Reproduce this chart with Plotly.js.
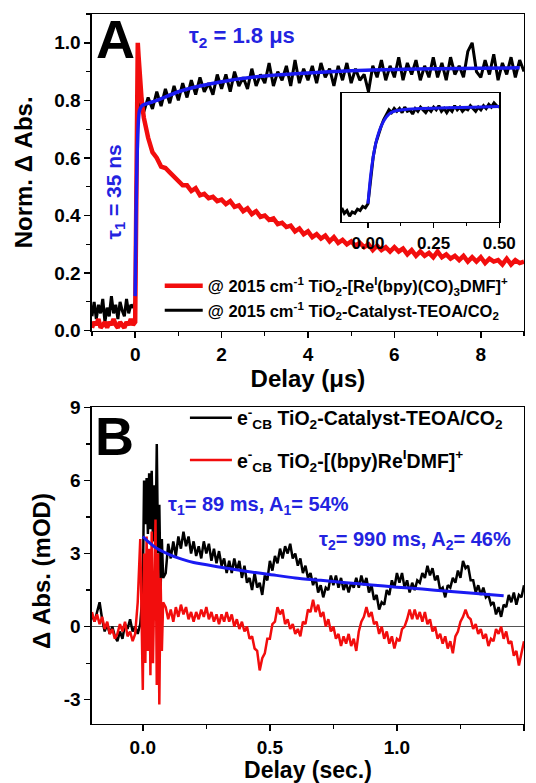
<!DOCTYPE html>
<html>
<head>
<meta charset="utf-8">
<script src="https://cdn.plot.ly/plotly-3.0.1.min.js"></script>
<style>html,body{margin:0;padding:0;background:#fff;}#chart{width:536px;height:783px;}</style>
</head>
<body>
<div id="chart"></div>
<script>
// ---------- Panel A: normalized IR transients (delay in microseconds) ----------
const tA = [-1.00,-0.95,-0.90,-0.85,-0.80,-0.75,-0.70,-0.65,-0.60,-0.55,-0.50,-0.45,-0.40,-0.35,-0.30,-0.25,-0.20,-0.15,-0.10,-0.05,
  0.00,0.02,0.04,0.06,0.08,0.10,0.15,
  0.2,0.3,0.4,0.5,0.6,0.7,0.8,0.9,
  1.0,1.1,1.2,1.3,1.4,1.5,1.6,1.7,1.8,1.9,
  2.0,2.1,2.2,2.3,2.4,2.5,2.6,2.7,2.8,2.9,
  3.0,3.1,3.2,3.3,3.4,3.5,3.6,3.7,3.8,3.9,
  4.0,4.1,4.2,4.3,4.4,4.5,4.6,4.7,4.8,4.9,
  5.0,5.1,5.2,5.3,5.4,5.5,5.6,5.7,5.8,5.9,
  6.0,6.1,6.2,6.3,6.4,6.5,6.6,6.7,6.8,6.9,
  7.0,7.1,7.2,7.3,7.4,7.5,7.6,7.7,7.8,7.9,
  8.0,8.1,8.2,8.3,8.4,8.5,8.6,8.7,8.8,8.9,9.0];
const blackA = [0.05,0.10,0.04,0.09,0.06,0.11,0.03,0.08,0.05,0.12,0.06,0.09,0.04,0.10,0.07,0.05,0.11,0.06,0.09,0.08,
  0.10,0.45,0.66,0.74,0.79,0.76,0.81,
  0.76,0.81,0.77,0.83,0.78,0.84,0.79,0.85,
  0.80,0.86,0.81,0.87,0.82,0.88,0.83,0.86,0.82,0.89,
  0.84,0.89,0.83,0.90,0.85,0.88,0.84,0.91,0.85,0.89,
  0.86,0.93,0.85,0.90,0.87,0.92,0.85,0.94,0.86,0.91,
  0.87,0.92,0.86,0.93,0.88,0.91,0.85,0.92,0.87,0.93,
  0.86,0.91,0.87,0.89,0.83,0.92,0.88,0.94,0.87,0.92,
  0.88,0.95,0.87,0.93,0.89,0.94,0.87,0.92,0.88,0.95,
  0.88,0.93,0.87,0.95,0.89,0.92,0.88,0.97,1.00,0.90,
  0.88,0.94,0.89,0.96,0.87,0.93,0.89,0.95,0.88,0.94,0.90];
const redA = [0.01,0.03,0.02,0.04,0.01,0.02,0.03,0.01,0.03,0.02,0.04,0.02,0.01,0.03,0.02,0.01,0.03,0.02,0.04,0.02,
  0.03,0.55,0.92,1.00,0.95,0.90,0.80,
  0.74,0.67,0.62,0.60,0.57,0.565,0.55,0.535,
  0.525,0.505,0.505,0.485,0.495,0.47,0.475,0.46,0.465,0.45,
  0.455,0.44,0.45,0.43,0.435,0.415,0.425,0.405,0.415,0.395,
  0.40,0.385,0.39,0.37,0.375,0.36,0.365,0.345,0.355,0.335,
  0.345,0.325,0.335,0.32,0.33,0.31,0.325,0.305,0.315,0.30,
  0.31,0.295,0.305,0.29,0.30,0.28,0.295,0.28,0.29,0.275,
  0.29,0.275,0.285,0.265,0.28,0.26,0.275,0.26,0.27,0.255,
  0.275,0.255,0.265,0.25,0.26,0.245,0.26,0.24,0.255,0.24,
  0.255,0.235,0.25,0.24,0.245,0.23,0.25,0.23,0.245,0.235,0.24];
const tFitA = [0,0.02,0.04,0.06,0.08,0.10,0.15,0.2,0.5,1,1.5,2,3,4,5,6,7,8,8.9];
const fitA  = [0.12,0.40,0.58,0.68,0.74,0.765,0.78,0.785,0.80,0.83,0.85,0.865,0.885,0.895,0.903,0.907,0.91,0.912,0.913];

// ---------- Inset of panel A (0 to 0.5 microseconds) ----------
const tInset = [-0.10,-0.09,-0.08,-0.07,-0.06,-0.05,-0.04,-0.03,-0.02,-0.01,0.00,
  0.01,0.02,0.03,0.04,0.05,0.06,0.07,0.08,0.09,0.10,
  0.11,0.12,0.13,0.14,0.15,0.16,0.17,0.18,0.19,0.20,
  0.21,0.22,0.23,0.24,0.25,0.26,0.27,0.28,0.29,0.30,
  0.31,0.32,0.33,0.34,0.35,0.36,0.37,0.38,0.39,0.40,
  0.41,0.42,0.43,0.44,0.45,0.46,0.47,0.48,0.49,0.50];
const blackInset = [0.10,0.06,0.08,0.04,0.07,0.06,0.09,0.08,0.11,0.10,0.13,
  0.30,0.47,0.57,0.64,0.69,0.74,0.77,0.81,0.79,0.82,
  0.80,0.82,0.79,0.83,0.80,0.81,0.78,0.82,0.80,0.83,
  0.81,0.79,0.82,0.80,0.83,0.81,0.84,0.80,0.82,0.79,
  0.82,0.80,0.84,0.81,0.83,0.80,0.82,0.81,0.84,0.82,
  0.80,0.83,0.81,0.84,0.82,0.85,0.83,0.86,0.84,0.83];
const tFitInset = [0,0.01,0.02,0.03,0.04,0.05,0.06,0.08,0.10,0.15,0.20,0.30,0.40,0.50];
const fitInset  = [0.13,0.33,0.47,0.57,0.64,0.69,0.73,0.78,0.80,0.815,0.82,0.825,0.83,0.835];
const insetTicks = [0, 0.25, 0.50];
const insetTickText = ['0.00','0.25','0.50'];

// ---------- Panel B: conduction-band electrons (delay in seconds) ----------
const tB = [-0.20,-0.19,-0.18,-0.17,-0.16,-0.15,-0.14,-0.13,-0.12,-0.11,-0.10,-0.09,-0.08,-0.07,-0.06,-0.05,-0.04,-0.03,-0.02,-0.01,
  0.000,0.005,0.010,0.015,0.020,0.025,0.030,0.035,0.040,0.045,0.050,0.055,0.060,0.065,0.070,0.075,0.080,
  0.09,0.10,0.11,0.12,0.13,0.14,0.15,0.16,0.17,0.18,0.19,0.20,0.21,0.22,0.23,0.24,0.25,0.26,0.27,0.28,0.29,0.30,
  0.31,0.32,0.33,0.34,0.35,0.36,0.37,0.38,0.39,0.40,0.41,0.42,0.43,0.44,0.45,0.46,0.47,0.48,0.49,0.50,
  0.51,0.52,0.53,0.54,0.55,0.56,0.57,0.58,0.59,0.60,0.61,0.62,0.63,0.64,0.65,0.66,0.67,0.68,0.69,0.70,
  0.71,0.72,0.73,0.74,0.75,0.76,0.77,0.78,0.79,0.80,0.81,0.82,0.83,0.84,0.85,0.86,0.87,0.88,0.89,0.90,
  0.91,0.92,0.93,0.94,0.95,0.96,0.97,0.98,0.99,1.00,1.01,1.02,1.03,1.04,1.05,1.06,1.07,1.08,1.09,1.10,
  1.11,1.12,1.13,1.14,1.15,1.16,1.17,1.18,1.19,1.20,1.21,1.22,1.23,1.24,1.25,1.26,1.27,1.28,1.29,1.30,
  1.31,1.32,1.33,1.34,1.35,1.36,1.37,1.38,1.39,1.40,1.41,1.42,1.43,1.44,1.45,1.46,1.47,1.48,1.49,1.50];
const blackB = [0.5,0.2,0.6,1.0,0.3,-0.2,0.1,-0.3,0.0,-0.4,-0.6,-0.2,-0.5,0.1,-0.1,0.3,-0.2,0.0,-0.3,0.1,
  1.5,6.0,4.2,6.1,3.8,6.3,4.0,6.4,3.5,5.8,3.3,7.5,3.0,5.0,1.5,3.6,2.0,
  2.2,3.4,2.8,3.5,2.9,3.7,3.2,3.9,3.3,3.7,3.0,3.5,2.9,3.3,2.8,3.5,3.0,3.4,2.7,3.2,2.6,3.1,
  2.5,2.8,2.2,2.7,2.2,2.8,2.3,2.7,2.0,2.5,1.8,2.0,1.5,2.2,1.6,1.8,1.3,2.1,1.9,2.7,
  2.3,2.9,2.6,3.2,2.8,3.3,3.0,3.4,2.8,3.0,2.5,2.8,2.2,2.5,2.0,2.2,1.7,2.0,1.4,1.7,
  1.2,1.6,1.5,2.1,1.7,2.1,1.6,2.0,1.5,1.8,1.4,1.8,1.6,2.0,1.6,2.1,1.7,2.0,1.4,1.7,
  1.1,1.3,0.7,1.0,0.9,1.5,1.3,1.9,1.6,2.2,1.8,2.2,1.6,1.9,1.4,1.8,1.5,1.9,1.8,2.2,
  2.0,2.5,2.1,2.4,1.9,2.1,1.5,1.6,1.2,1.7,1.6,2.0,1.8,2.3,2.0,2.7,2.4,2.5,1.9,1.9,
  1.4,1.7,1.3,1.6,1.2,1.3,0.9,1.0,0.5,0.8,0.4,0.9,0.8,1.3,1.0,1.4,0.9,1.3,1.2,1.7];
const redB = [0.6,0.2,0.5,0.1,0.4,-0.1,0.2,-0.3,-0.1,-0.5,-0.3,0.1,-0.2,0.2,-0.4,-0.2,-0.6,-0.3,1.0,3.6,
  -2.6,3.0,-1.5,3.7,-1.0,3.2,-2.0,3.9,-1.5,2.5,4.4,-2.4,3.0,-3.2,2.0,-1.0,1.0,
  0.8,0.3,0.7,0.2,0.8,0.4,0.9,0.5,0.8,0.3,0.6,0.2,0.6,0.3,0.7,0.4,0.8,0.3,0.6,0.2,0.5,0.1,
  0.5,0.2,0.6,0.2,0.5,0.0,0.3,-0.1,0.2,-0.2,0.0,-0.5,-0.4,-0.9,-1.0,-1.8,-1.3,-1.1,-0.5,-0.5,
  0.1,0.2,0.8,0.5,0.7,0.1,0.3,-0.1,0.1,-0.3,-0.1,-0.4,0.2,0.1,0.7,0.6,1.1,0.6,0.9,0.4,
  0.6,0.0,0.3,-0.2,0.0,-0.5,-0.3,-0.8,-0.4,-0.7,-0.3,-0.8,-0.5,-1.0,-0.2,0.2,0.4,0.8,0.4,0.6,
  0.1,0.2,-0.3,0.0,-0.5,-0.2,-0.7,-0.4,-0.9,-0.5,-0.6,-0.1,0.0,0.3,0.7,0.3,0.7,0.3,0.6,0.2,
  0.6,0.1,0.3,-0.2,0.0,-0.5,-0.3,-0.7,-0.4,-0.9,-0.6,-1.1,-0.4,-0.2,0.2,0.4,0.7,0.4,0.3,-0.1,
  0.1,-0.3,-0.1,-0.5,-0.3,-0.8,-0.5,-0.6,-0.1,-0.3,0.0,-0.5,-0.2,-0.7,-0.6,-1.2,-1.0,-1.6,-1.1,-0.6];
const tFitB = [0,0.02,0.05,0.10,0.15,0.20,0.30,0.40,0.50,0.60,0.70,0.80,0.90,1.00,1.10,1.20,1.30,1.42];
const fitB  = [3.7,3.5,3.25,2.98,2.78,2.63,2.45,2.28,2.14,2.0,1.9,1.8,1.71,1.62,1.54,1.45,1.37,1.27];
const yTicksB = [-3,0,3,6,9];
const yTickTextB = ['-3','0','3','6','9'];

// ---------- Labels ----------
const nameRedA = '@ 2015 cm<sup>-1</sup> TiO<sub>2</sub>-[Re<sup>I</sup>(bpy)(CO)<sub>3</sub>DMF]<sup>+</sup>';
const nameBlackA = '@ 2015 cm<sup>-1</sup> TiO<sub>2</sub>-Catalyst-TEOA/CO<sub>2</sub>';
const nameBlackB = 'e<sup>-</sup><sub>CB</sub> TiO<sub>2</sub>-Catalyst-TEOA/CO<sub>2</sub>';
const nameRedB = 'e<sup>-</sup><sub>CB</sub> TiO<sub>2</sub>-[(bpy)Re<sup>I</sup>DMF]<sup>+</sup>';
const yTitleB = 'Δ Abs. (mOD)';

const RED = '#f20d0d', BLACK = '#000000', BLUE = '#1a1af2', TXTBLUE = '#2323e0';

const traces = [
  {x: tA, y: blackA, xaxis:'x', yaxis:'y', mode:'lines', line:{color:BLACK, width:3}, name: nameBlackA, legend:'legend', legendrank:2, legendgroup:'a2'},
  {x: tA, y: redA, xaxis:'x', yaxis:'y', mode:'lines', line:{color:RED, width:4.5}, name: nameRedA, legend:'legend', legendrank:1, legendgroup:'a1'},
  {x: tFitA, y: fitA, xaxis:'x', yaxis:'y', mode:'lines', line:{color:BLUE, width:3.5, shape:'spline', smoothing:0.5}, showlegend:false, name:'fit A'},
  {x: tInset, y: blackInset, xaxis:'x3', yaxis:'y3', mode:'lines', line:{color:BLACK, width:3}, showlegend:false, name:'inset'},
  {x: tFitInset, y: fitInset, xaxis:'x3', yaxis:'y3', mode:'lines', line:{color:BLUE, width:3, shape:'spline', smoothing:0.6}, showlegend:false, name:'inset fit'},
  {x: tB, y: blackB, xaxis:'x2', yaxis:'y2', mode:'lines', line:{color:BLACK, width:2.5}, name: nameBlackB, legend:'legend2', legendrank:1, legendgroup:'b1'},
  {x: tB, y: redB, xaxis:'x2', yaxis:'y2', mode:'lines', line:{color:RED, width:2.5}, name: nameRedB, legend:'legend2', legendrank:2, legendgroup:'b2'},
  {x: tFitB, y: fitB, xaxis:'x2', yaxis:'y2', mode:'lines', line:{color:BLUE, width:3, shape:'spline', smoothing:0.6}, showlegend:false, name:'fit B'}
];

const axBase = {showline:true, mirror:true, linecolor:'#000', linewidth:1.5, showgrid:false, zeroline:false,
  ticks:'outside', ticklen:6, tickwidth:1.5, tickcolor:'#000', tickfont:{size:19}};

const layout = {
  width:536, height:783, margin:{l:0,r:0,t:0,b:0},
  paper_bgcolor:'#fff', plot_bgcolor:'#fff',
  font:{family:'"Liberation Sans", Arial, sans-serif', weight:'bold', color:'#000', size:19},
  showlegend:true,
  xaxis: Object.assign({}, axBase, {domain:[0.1716,0.9776], anchor:'y', range:[-1,9], tick0:0, dtick:2,
    minor:{dtick:1, ticks:'outside', ticklen:4, tickwidth:1.2, tickcolor:'#000'},
    title:{text:'Delay (μs)', font:{size:24}, standoff:4}}),
  yaxis: Object.assign({}, axBase, {domain:[0.5777,0.9821], anchor:'x', range:[0,1.1], tick0:0, dtick:0.2, tickformat:'.1f',
    minor:{dtick:0.1, ticks:'outside', ticklen:4, tickwidth:1.2, tickcolor:'#000'},
    title:{text:'Norm. Δ Abs.', font:{size:24}, standoff:15}}),
  xaxis2: Object.assign({}, axBase, {domain:[0.1716,0.9776], anchor:'y2', range:[-0.2,1.5], tick0:0, dtick:0.5, tickformat:'.1f',
    minor:{dtick:0.25, ticks:'outside', ticklen:4, tickwidth:1.2, tickcolor:'#000'},
    title:{text:'Delay (sec.)', font:{size:23}, standoff:5}}),
  yaxis2: Object.assign({}, axBase, {domain:[0.0754,0.4796], anchor:'x2', range:[-4,9], tickmode:'array', tickvals:yTicksB, ticktext:yTickTextB,
    minor:{dtick:1.5, tick0:0, ticks:'outside', ticklen:4, tickwidth:1.2, tickcolor:'#000'},
    zeroline:true, zerolinecolor:'#555', zerolinewidth:1.2}),
  xaxis3: Object.assign({}, axBase, {domain:[0.6375,0.9315], anchor:'y3', range:[-0.1,0.5], tickmode:'array', tickvals:insetTicks, ticktext:insetTickText,
    ticklen:5, tickfont:{size:17}, minor:{dtick:0.125, tick0:0, ticks:'outside', ticklen:3, tickwidth:1.2, tickcolor:'#000'}}),
  yaxis3: Object.assign({}, axBase, {domain:[0.7169,0.8808], anchor:'x3', range:[0,0.93], showticklabels:false, ticks:''}),
  legend:{x:0.298, xanchor:'left', y:0.657, yanchor:'top', bgcolor:'rgba(0,0,0,0)', font:{size:16.5}, tracegroupgap:0, itemwidth:38},
  legend2:{x:0.345, xanchor:'left', y:0.491, yanchor:'top', bgcolor:'rgba(0,0,0,0)', font:{size:19.5}, tracegroupgap:14, itemwidth:42},
  annotations:[
    {xref:'paper', yref:'paper', x:0.0784, y:0.2708, text:yTitleB, textangle:-90, showarrow:false, font:{size:24, color:'#000'}, xanchor:'center', yanchor:'middle'},
    {xref:'paper', yref:'paper', x:0.2146, y:0.950, text:'A', showarrow:false, font:{size:54, color:'#000'}, xanchor:'center', yanchor:'middle'},
    {xref:'paper', yref:'paper', x:0.4515, y:0.9527, text:'τ<sub>2</sub> = 1.8 μs', showarrow:false, font:{size:22, color:TXTBLUE}, xanchor:'center', yanchor:'middle'},
    {xref:'paper', yref:'paper', x:0.214, y:0.7552, text:'τ<sub>1</sub> = 35 ns', textangle:-90, showarrow:false, font:{size:21, color:TXTBLUE}, xanchor:'center', yanchor:'middle'},
    {xref:'paper', yref:'paper', x:0.2127, y:0.4432, text:'B', showarrow:false, font:{size:54, color:'#000'}, xanchor:'center', yanchor:'middle'},
    {xref:'paper', yref:'paper', x:0.4825, y:0.355, text:'τ<sub>1</sub>= 89 ms, A<sub>1</sub>= 54%', showarrow:false, font:{size:20, color:TXTBLUE}, xanchor:'center', yanchor:'middle'},
    {xref:'paper', yref:'paper', x:0.7748, y:0.3103, text:'τ<sub>2</sub>= 990 ms, A<sub>2</sub>= 46%', showarrow:false, font:{size:20, color:TXTBLUE}, xanchor:'center', yanchor:'middle'}
  ]
};

Plotly.newPlot('chart', traces, layout, {staticPlot:true, displayModeBar:false});
</script>
</body>
</html>
